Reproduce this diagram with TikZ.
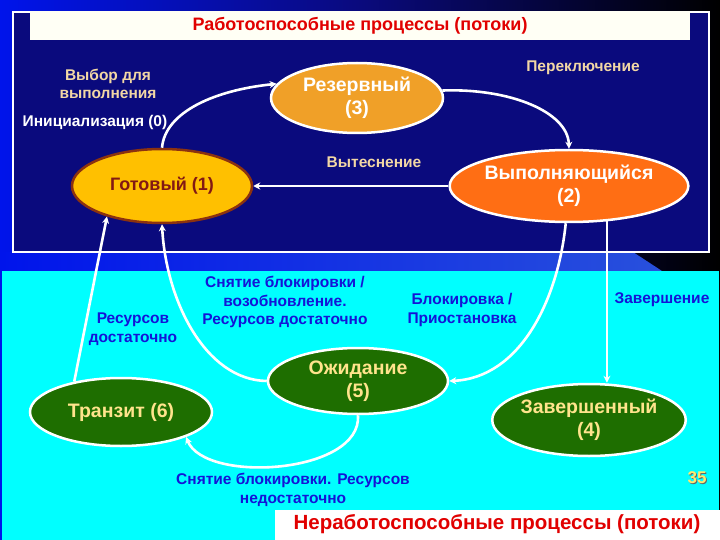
\documentclass[tikz,border=0pt]{standalone}
\usepackage{fontspec}
\setmainfont{Liberation Sans}
\usetikzlibrary{shapes.geometric,arrows.meta}
\definecolor{navybox}{RGB}{10,10,125}
\definecolor{bgblue}{RGB}{0,20,235}
\definecolor{lightbg}{RGB}{40,80,220}
\definecolor{cyanbg}{RGB}{0,255,255}
\definecolor{orres}{RGB}{240,160,40}
\definecolor{goldready}{RGB}{255,192,0}
\definecolor{brownedge}{RGB}{140,50,15}
\definecolor{brownText}{RGB}{130,25,20}
\definecolor{orrun}{RGB}{255,110,20}
\definecolor{greenst}{RGB}{30,110,0}
\definecolor{greentext}{RGB}{255,228,140}
\definecolor{tanlbl}{RGB}{242,215,165}
\definecolor{bluelbl}{RGB}{20,20,215}
\definecolor{redtitle}{RGB}{225,0,0}
\definecolor{titlebar}{RGB}{255,255,245}
\tikzset{
  st/.style={ellipse, inner sep=0pt, align=center, font=\fontsize{19.5}{23}\selectfont\bfseries},
  whst/.style={st, draw=white, line width=2.5pt, text=white},
  grst/.style={st, fill=greenst, draw=white, line width=2.5pt, text=greentext},
  arr/.style={draw=white, line width=2.6pt, -{Stealth[length=7pt,width=7pt]}},
  lbl/.style={align=center, inner sep=0pt, font=\fontsize{15.5}{18.5}\selectfont\bfseries},
  tanl/.style={lbl, text=tanlbl},
  bluel/.style={lbl, text=bluelbl}
}
\begin{document}
\begin{tikzpicture}[x=1pt,y=-1pt]
\useasboundingbox (0,0) rectangle (720,540);
% background
\shade[left color=bgblue, right color=black, middle color=navybox] (0,0) rectangle (720,540);
\shade[left color=bgblue, right color=lightbg] (0,252) -- (633,252) -- (662,271) -- (0,271) -- cycle;
% upper box
\draw[white, line width=2.5pt, fill=navybox] (13,12) rectangle (709,252);
\fill[titlebar] (30,11) rectangle (690,40);
\node[text=redtitle, font=\fontsize{18}{21}\selectfont\bfseries] (title) at (360,26) {Работоспособные процессы (потоки)};
% lower area
\fill[cyanbg] (2,271) rectangle (719,540);
\fill[white] (275,510) rectangle (720,540);
\node[text=redtitle, font=\fontsize{20.5}{24}\selectfont\bfseries] (title2) at (497,524) {Неработоспособные процессы (потоки)};
% states
\node[whst, fill=orres, minimum width=172pt, minimum height=70pt] (R) at (357,98) {Резервный\\(3)};
\node[st, font=\fontsize{18}{21}\selectfont\bfseries, fill=goldready, draw=brownedge, line width=2.5pt, text=brownText, minimum width=180pt, minimum height=74pt] (G) at (162,186) {Готовый (1)};
\node[whst, fill=orrun, minimum width=196pt, minimum height=72pt] (V) at (569,186) {Выполняющийся\\(2)};
\node[grst, minimum width=180pt, minimum height=66pt] (W) at (358,381) {Ожидание\\(5)};
\node[grst, minimum width=182pt, minimum height=68pt] (T) at (121,412) {Транзит (6)};
\node[grst, minimum width=182pt, minimum height=72pt] (Z) at (589,420) {Завершенный\\(4)};
% connectors
\draw[arr] (G.north) .. controls (165,112) and (215,90) .. (R.170);
\draw[arr] (R.5) .. controls (510,88) and (568,112) .. (V.north);
\draw[arr] (V.west) -- (G.east);
\draw[arr] (V.265) .. controls (558,300) and (520,378) .. (W.east);
\draw[arr] (V.-43) -- (V.-43 |- Z.north);
\draw[arr] (W.west) .. controls (205,380) and (166,300) .. (G.south);
\draw[arr] (T.147) -- (G.209);
\draw[arr] (W.south) .. controls (362,474) and (205,484) .. (T.-21);
% labels
\node[tanl] (l1) at (108,84) {Выбор для\\выполнения};
\node[lbl, text=white] (l2) at (95,122) {Инициализация (0)};
\node[tanl] (l3) at (583,68) {Переключение};
\node[tanl] (l4) at (374,162) {Вытеснение};
\node[bluel] (l5) at (285,302) {Снятие блокировки /\\возобновление.\\Ресурсов достаточно};
\node[bluel] (l6) at (133,329) {Ресурсов\\достаточно};
\node[bluel] (l7) at (462,310) {Блокировка /\\Приостановка};
\node[bluel] (l8) at (662,300) {Завершение};
\node[bluel] (l9) at (293,490) {Снятие блокировки. Ресурсов\\недостаточно};
\node[text=black!60, font=\fontsize{17}{20}\selectfont\bfseries] at (698,479) {35};
\node[text=greentext!80!yellow, font=\fontsize{17}{20}\selectfont\bfseries] (num) at (697,478) {35};
\end{tikzpicture}
\end{document}
